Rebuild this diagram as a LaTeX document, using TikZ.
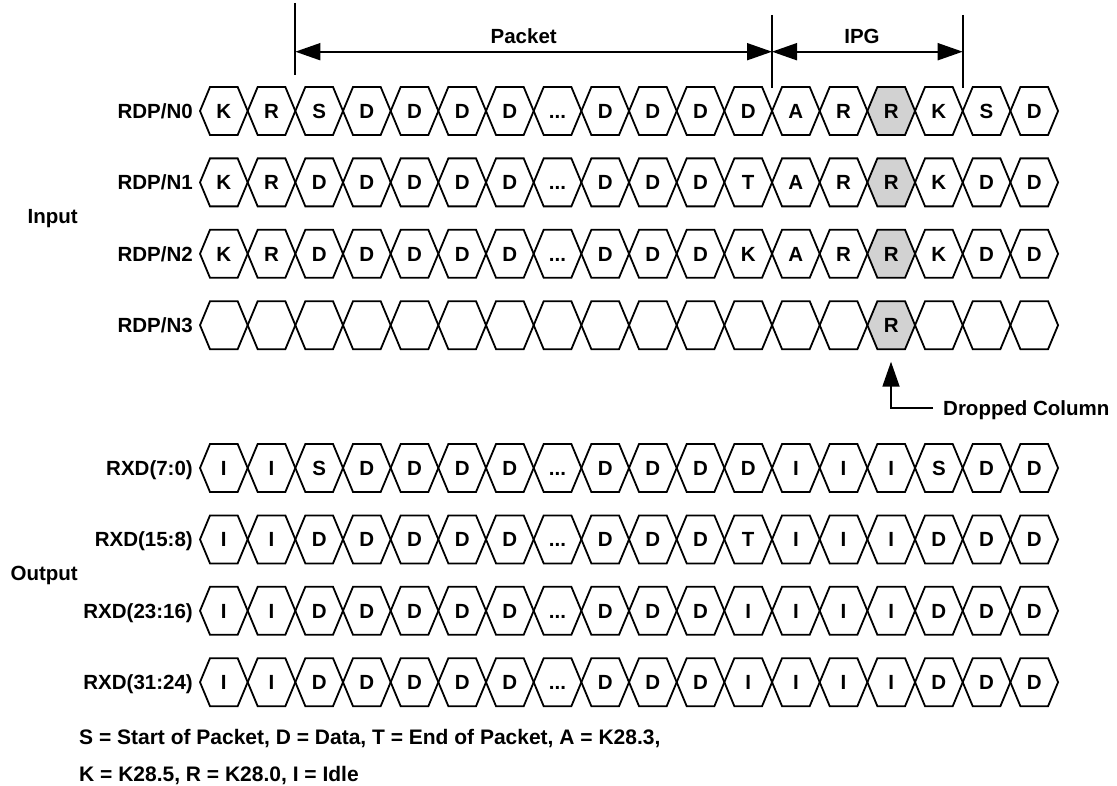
\documentclass[tikz,border=0pt]{standalone}
\usepackage{fontspec}
\setmainfont{Liberation Sans}
\usetikzlibrary{positioning,arrows.meta}
\newcommand{\skipd}{...}
\tikzset{
  cell/.style={draw, line width=1.8pt, line join=miter},
  cellfill/.style={fill=gray!35},
  celltext/.style={font=\bfseries\fontsize{20.5}{24}\selectfont, inner sep=0pt, text height=14.7pt, text depth=0pt},
  rowlabel/.style={font=\bfseries\fontsize{20.5}{24}\selectfont, inner sep=0pt, text height=14.7pt, text depth=0pt, anchor=east},
  legend/.style={font=\bfseries\fontsize{21}{24}\selectfont, inner sep=0pt, anchor=base west},
  marker/.style={line width=1.8pt},
  span/.style={line width=1.8pt, {Triangle[length=25pt,width=17pt]}-{Triangle[length=25pt,width=17pt]}},
  pointer/.style={line width=1.8pt, -{Triangle[length=25pt,width=17pt]}},
}

\begin{document}
\begin{tikzpicture}[x=1pt, y=-1pt]
  \useasboundingbox (0,0) rectangle (1117,786);

  % shaded column that is dropped
  \foreach \y in {111,182.4,253.8,325.2}
    \fill[cellfill] (867.38,\y) -- ++(10,-24) -- ++(27.67,0) -- ++(10,24) -- ++(-10,24) -- ++(-27.67,0) -- cycle;

  % bus rows
  \foreach \rk/\y/\cells in {
      n0/111/{K,R,S,D,D,D,D,\skipd,D,D,D,D,A,R,R,K,S,D},
      n1/182.4/{K,R,D,D,D,D,D,\skipd,D,D,D,T,A,R,R,K,D,D},
      n2/253.8/{K,R,D,D,D,D,D,\skipd,D,D,D,K,A,R,R,K,D,D},
      n3/325.2/{{},{},{},{},{},{},{},{},{},{},{},{},{},{},R,{},{},{}},
      x0/468/{I,I,S,D,D,D,D,\skipd,D,D,D,D,I,I,I,S,D,D},
      x1/539.4/{I,I,D,D,D,D,D,\skipd,D,D,D,T,I,I,I,D,D,D},
      x2/610.8/{I,I,D,D,D,D,D,\skipd,D,D,D,I,I,I,I,D,D,D},
      x3/682.2/{I,I,D,D,D,D,D,\skipd,D,D,D,I,I,I,I,D,D,D}} {
    \foreach \t [count=\i from 0] in \cells {
      \draw[cell] (200+47.67*\i,\y) -- ++(10,-24) -- ++(27.67,0) -- ++(10,24) -- ++(-10,24) -- ++(-27.67,0) -- cycle;
      \node[celltext] (\rk c\i) at (223.83+47.67*\i,\y) {\t};
    }
  }

  % row labels
  \node[rowlabel] (lbln0) at (193,111) {RDP/N0};
  \node[rowlabel] (lbln1) at (193,182.4) {RDP/N1};
  \node[rowlabel] (lbln2) at (193,253.8) {RDP/N2};
  \node[rowlabel] (lbln3) at (193,325.2) {RDP/N3};
  \node[rowlabel] (lblx0) at (193,468) {RXD(7:0)};
  \node[rowlabel] (lblx1) at (193,539.4) {RXD(15:8)};
  \node[rowlabel] (lblx2) at (193,610.8) {RXD(23:16)};
  \node[rowlabel] (lblx3) at (193,682.2) {RXD(31:24)};
  \node[rowlabel] (inlbl) at (78,216) {Input};
  \node[rowlabel] (outlbl) at (78,573) {Output};

  % packet and IPG spans
  \coordinate (pkttop) at (295.33,3);
  \coordinate (pktbot) at (295.33,75);
  \coordinate (endtop) at (772,15);
  \coordinate (endbot) at (772,88);
  \coordinate (ipgtop) at (962.7,15);
  \coordinate (ipgbot) at (962.7,88);
  \coordinate (pkta) at (295.33,51.7);
  \coordinate (pktb) at (772,51.7);
  \coordinate (ipgb) at (962.7,51.7);
  \draw[marker] (pkttop) -- (pktbot);
  \draw[marker] (endtop) -- (endbot);
  \draw[marker] (ipgtop) -- (ipgbot);
  \draw[span] (pkta) -- (pktb);
  \draw[span] (pktb) -- (ipgb);
  \node[rowlabel, anchor=center] (pktlbl) at (523.7,36) {Packet};
  \node[rowlabel, anchor=center] (ipglbl) at (862,36) {IPG};

  % dropped column pointer
  \coordinate (droptip) at (891,361.7);
  \node[rowlabel, anchor=west] (droplbl) at (943,408) {Dropped Column};
  \draw[pointer] ([xshift=-10pt]droplbl.west) -| (droptip);

  % legend
  \node[legend] (leg1) at (79,744) {S = Start of Packet, D = Data, T = End of Packet, A = K28.3,};
  \node[legend] (leg2) at (79,781) {K = K28.5, R = K28.0, I = Idle};
\end{tikzpicture}
\end{document}
